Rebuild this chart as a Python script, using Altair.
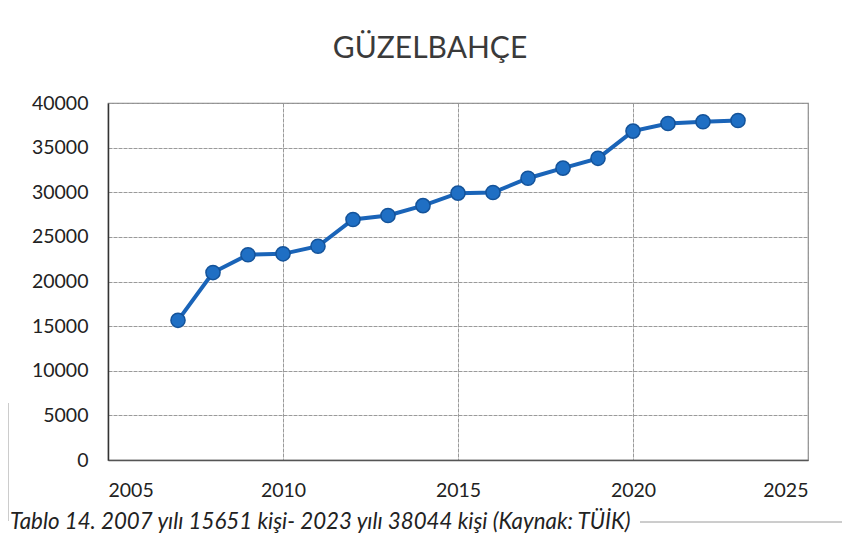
import altair as alt
import pandas as pd

years = list(range(2007, 2024))
population = [15651, 21000, 23000, 23100, 23950, 26950, 27400, 28500, 29900,
              29970, 31570, 32700, 33800, 36850, 37700, 37900, 38044]
x_ticks = [2005, 2010, 2015, 2020, 2025]
y_ticks = [0, 5000, 10000, 15000, 20000, 25000, 30000, 35000, 40000]
title_text = "GÜZELBAHÇE"
caption_text = "Tablo 14. 2007 yılı 15651 kişi- 2023 yılı 38044 kişi (Kaynak: TÜİK)"

df = pd.DataFrame({"year": years, "pop": population})

FONT = "Lato"
W, H = 700, 357

x = alt.X("year:Q", scale=alt.Scale(domain=[2005, 2025], nice=False),
          axis=alt.Axis(values=x_ticks, format="d", title=None, ticks=False,
                        labelFont=FONT, labelFontSize=19.5, labelColor="#222222",
                        labelPadding=21, grid=True, gridColor="#9a9a9a",
                        gridDash=[4, 1], domainColor="#555555", domainWidth=1.5))
y = alt.Y("pop:Q", scale=alt.Scale(domain=[0, 40000], nice=False),
          axis=alt.Axis(values=y_ticks, format="d", title=None, ticks=False,
                        labelFont=FONT, labelFontSize=19.5, labelColor="#222222",
                        labelPadding=20, grid=True, gridColor="#9a9a9a",
                        gridDash=[4, 1], domainColor="#333333", domainWidth=1.5))

line = alt.Chart(df).mark_line(color="#1a64b8", strokeWidth=4).encode(x=x, y=y)
pts = alt.Chart(df).mark_point(filled=True, size=200, color="#1f6fc4",
                               stroke="#14539a", strokeWidth=1.5, opacity=1).encode(x="year:Q", y="pop:Q")

title = alt.Chart(pd.DataFrame({"t": [title_text]})).mark_text(
    font=FONT, fontSize=30, color="#3a3a3a", align="center", baseline="middle"
).encode(text="t:N", x=alt.value(322), y=alt.value(-54))

caption = alt.Chart(pd.DataFrame({"t": [caption_text]})).mark_text(
    font=FONT, fontSize=22.3, fontStyle="italic", color="#222222", align="left",
    baseline="middle"
).encode(text="t:N", x=alt.value(-98), y=alt.value(419))

cap_line = alt.Chart(pd.DataFrame({"a": [0]})).mark_rule(color="#9a9a9a", strokeWidth=1).encode(
    x=alt.value(532), x2=alt.value(742), y=alt.value(419))
left_line = alt.Chart(pd.DataFrame({"a": [0]})).mark_rule(color="#9a9a9a", strokeWidth=1).encode(
    x=alt.value(-100), y=alt.value(300), y2=alt.value(418))

chart = alt.layer(line, pts, title, caption, cap_line, left_line).properties(
    width=W, height=H,
    autosize=alt.AutoSizeParams(type="none"),
    padding={"left": 100, "top": 95, "right": 34, "bottom": 85},
    background="white",
).configure_view(stroke="#888888", strokeWidth=1.2)

chart.save("out.html", embed_options={"renderer": "svg", "actions": False})
